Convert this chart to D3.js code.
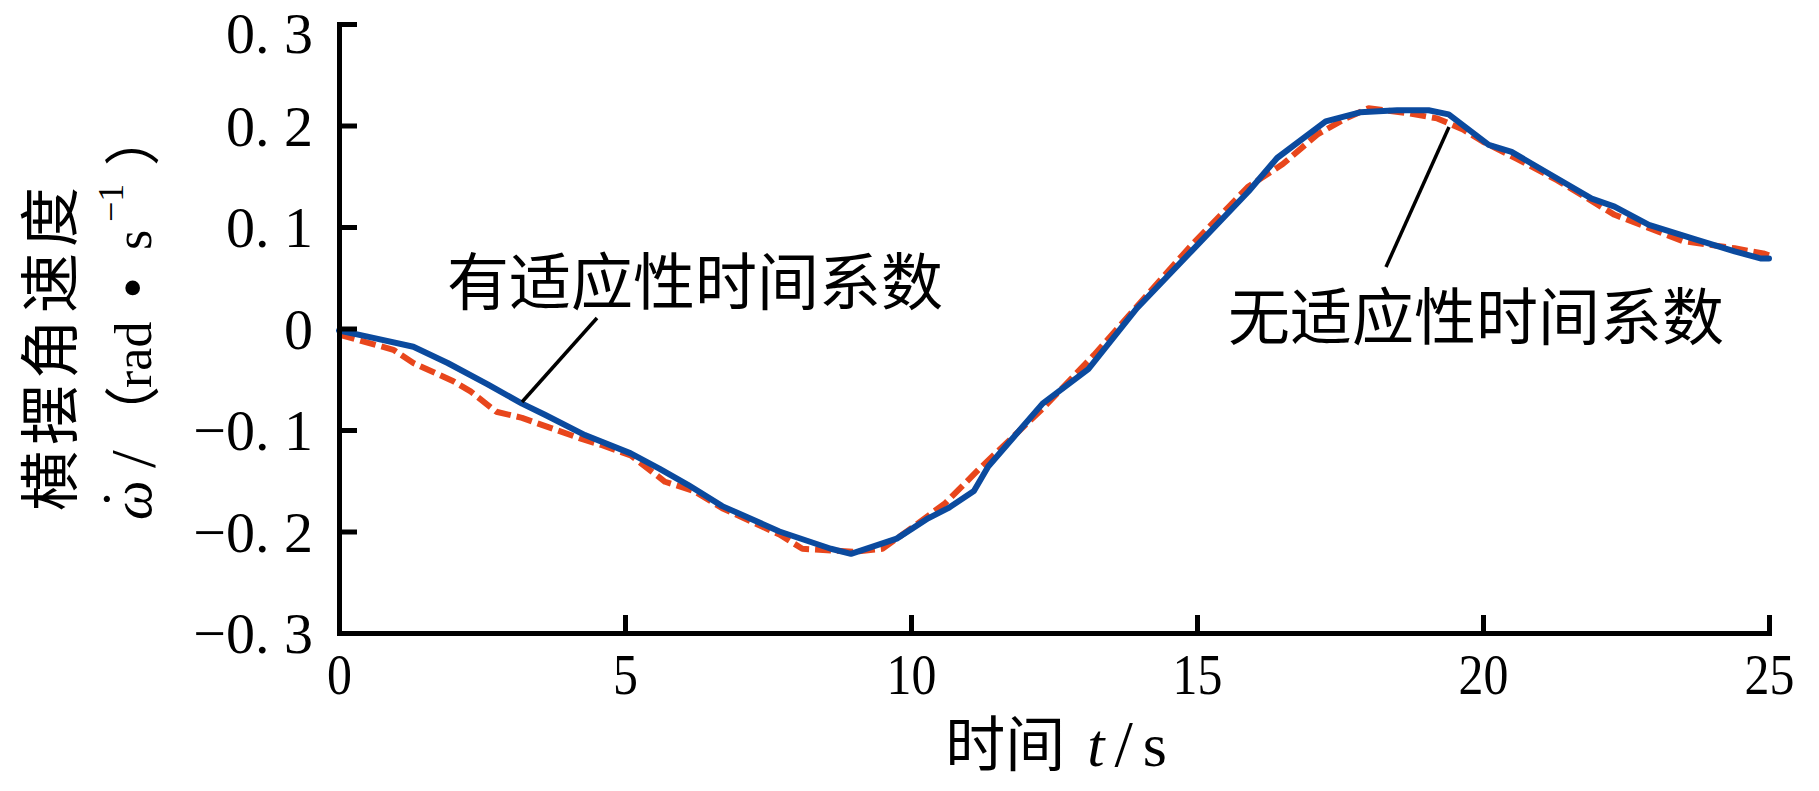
<!DOCTYPE html>
<html>
<head>
<meta charset="utf-8">
<script src="https://cdn.jsdelivr.net/npm/d3@7"></script>
<style>
  html, body { margin: 0; padding: 0; background: #fff; }
  svg { display: block; }
  .tick text { font-family: "Liberation Serif", "DejaVu Serif", serif; font-size: 58px; fill: #000; }
  .cjk { font-family: "Noto Sans CJK SC", "Noto Sans CJK JP", sans-serif; fill: #000; }
  .serif { font-family: "Liberation Serif", "DejaVu Serif", serif; fill: #000; }
</style>
</head>
<body>
<svg id="chart" width="1819" height="791"></svg>
<script>
// ---- data ----
const xTicks = [0, 5, 10, 15, 20, 25];
const yTicks = [0.3, 0.2, 0.1, 0, -0.1, -0.2, -0.3];
const yTickLabels = ["0. 3", "0. 2", "0. 1", "0", "\u22120. 1", "\u22120. 2", "\u22120. 3"];

// 有适应性时间系数 (blue, solid)
const adaptiveTime = [0, 0.5, 1.3, 1.9, 2.6, 3.2, 3.6, 4.3, 5.1, 5.6, 6.1, 6.7, 7.7, 8.6, 8.95,
  9.75, 10.3, 10.65, 11.1, 11.35, 12.3, 13.1, 13.95, 14.9, 15.9, 16.4, 17.25, 17.85, 18.5, 19.05,
  19.4, 19.75, 20.1, 20.5, 21.2, 21.9, 22.3, 22.9, 23.7, 24.4, 24.85, 25];
const adaptiveRate = [-0.002, -0.008, -0.018, -0.034, -0.055, -0.074, -0.085, -0.105, -0.123, -0.138,
  -0.154, -0.175, -0.200, -0.217, -0.222, -0.207, -0.187, -0.177, -0.160, -0.136, -0.074, -0.040,
  0.020, 0.076, 0.135, 0.168, 0.204, 0.213, 0.215, 0.215, 0.211, 0.196, 0.181, 0.174, 0.151, 0.128,
  0.120, 0.102, 0.088, 0.076, 0.069, 0.069];

// 无适应性时间系数 (red, dashed)
const fixedTime = [0, 0.95, 1.3, 2.0, 2.3, 2.75, 3.2, 3.8, 4.2, 4.6, 5.1, 5.7, 6.2, 6.7, 7.7, 8.1,
  9.0, 9.5, 10.0, 10.6, 11.2, 12.3, 13.2, 14.0, 14.9, 15.9, 16.5, 17.1, 17.6, 18.0, 18.7, 19.2,
  19.65, 20.0, 20.6, 21.3, 22.3, 23.5, 24.4, 24.9, 25];
const fixedRate = [-0.006, -0.021, -0.034, -0.052, -0.062, -0.082, -0.088, -0.100, -0.108, -0.115,
  -0.125, -0.151, -0.160, -0.177, -0.203, -0.217, -0.220, -0.217, -0.197, -0.172, -0.138, -0.079,
  -0.026, 0.025, 0.082, 0.140, 0.162, 0.191, 0.207, 0.217, 0.212, 0.207, 0.196, 0.184, 0.167,
  0.146, 0.112, 0.086, 0.079, 0.074, 0.072];

const labelAdaptive = "有适应性时间系数";
const labelFixed = "无适应性时间系数";

// ---- layout ----
const svg = d3.select("#chart");
const x = d3.scaleLinear().domain([0, 25]).range([339, 1769]);
const y = d3.scaleLinear().domain([-0.3, 0.3]).range([633, 24]);

const line = d3.line().x(d => x(d[0])).y(d => y(d[1]));
const fixedPts = fixedTime.map((t, i) => [t, fixedRate[i]]);
const adaptivePts = adaptiveTime.map((t, i) => [t, adaptiveRate[i]]);

svg.append("path").datum(fixedPts).attr("d", line)
  .attr("fill", "none").attr("stroke", "#e8461c").attr("stroke-width", 6)
  .attr("stroke-dasharray", "16,6").attr("stroke-linejoin", "round");
svg.append("path").datum(adaptivePts).attr("d", line)
  .attr("fill", "none").attr("stroke", "#0b4a9e").attr("stroke-width", 6)
  .attr("stroke-linejoin", "round").attr("stroke-linecap", "round");

// axes
const yAxis = d3.axisLeft(y).tickValues(yTicks).tickSizeInner(-18).tickSizeOuter(0)
  .tickPadding(26).tickFormat((d, i) => yTickLabels[i]);
const xAxis = d3.axisBottom(x).tickValues(xTicks).tickSizeInner(-18).tickSizeOuter(0)
  .tickPadding(22).tickFormat(d3.format("d"));

const gy = svg.append("g").attr("transform", `translate(${x(0)},0)`).call(yAxis);
const gx = svg.append("g").attr("transform", `translate(0,${y(-0.3)})`).call(xAxis);
[gx, gy].forEach(g => {
  g.select(".domain").attr("stroke", "#000").attr("stroke-width", 5).attr("stroke-linecap", "square");
  g.selectAll(".tick line").attr("stroke", "#000").attr("stroke-width", 5);
  g.selectAll(".tick text").attr("fill", "#000");
});
// keep the top label's box inside the page
gy.selectAll(".tick text").attr("dy", d => d === 0.3 ? "0.49em" : "0.34em");
gx.selectAll(".tick text").attr("transform", "scale(0.86,1)").attr("dy", "0.68em");

// annotations
svg.append("text").attr("class", "cjk").attr("x", 695).attr("y", 278)
  .attr("text-anchor", "middle").attr("dominant-baseline", "central")
  .attr("font-size", 62).text(labelAdaptive);
svg.append("line").attr("x1", 597).attr("y1", 318).attr("x2", 522).attr("y2", 402)
  .attr("stroke", "#000").attr("stroke-width", 3.5);

svg.append("text").attr("class", "cjk").attr("x", 1476).attr("y", 313)
  .attr("text-anchor", "middle").attr("dominant-baseline", "central")
  .attr("font-size", 62).text(labelFixed);
svg.append("line").attr("x1", 1449).attr("y1", 127).attr("x2", 1386).attr("y2", 267)
  .attr("stroke", "#000").attr("stroke-width", 3.5);

// x-axis title
const xt = svg.append("text").attr("x", 1056).attr("y", 766)
  .attr("text-anchor", "middle");
xt.append("tspan").attr("class", "cjk").attr("font-size", 60).text("时间");
xt.append("tspan").attr("class", "serif").attr("font-size", 62).attr("font-style", "italic")
  .attr("dx", 22).text("t");
xt.append("tspan").attr("class", "serif").attr("font-size", 66).attr("dx", 10).text("/");
xt.append("tspan").attr("class", "serif").attr("font-size", 62).attr("dx", 10).text("s");

// y-axis title line 1
svg.append("text").attr("class", "cjk")
  .attr("transform", "translate(45,346) rotate(-90)")
  .attr("text-anchor", "middle").attr("dominant-baseline", "central")
  .attr("font-size", 60).attr("letter-spacing", 6).text("横摆角速度");

// y-axis title line 2 (reads bottom to top)
const yt = svg.append("g").attr("transform", "translate(151,520) rotate(-90)");
yt.append("text").attr("class", "serif").attr("x", 0).attr("y", 0)
  .attr("font-size", 56).attr("font-style", "italic").text("\u03C9");
yt.append("text").attr("class", "serif").attr("x", 21).attr("y", -8)
  .attr("text-anchor", "middle").attr("font-size", 60).text("\u02D9");
yt.append("text").attr("class", "serif").attr("x", 52).attr("y", 4)
  .attr("font-size", 64).text("/");
yt.append("text").attr("class", "cjk").attr("x", 78).attr("y", 2)
  .attr("font-size", 56).text("（");
yt.append("text").attr("class", "serif").attr("x", 132).attr("y", 0)
  .attr("font-size", 52).text("rad");
yt.append("text").attr("class", "serif").attr("x", 232).attr("y", 2)
  .attr("text-anchor", "middle").attr("font-size", 62).text("•");
yt.append("text").attr("class", "serif").attr("x", 270).attr("y", 0)
  .attr("font-size", 52).text("s");
yt.append("text").attr("class", "serif").attr("x", 298).attr("y", -28)
  .attr("font-size", 36).text("\u22121");
yt.append("text").attr("class", "cjk").attr("x", 354).attr("y", 2)
  .attr("font-size", 56).text("）");
</script>
</body>
</html>
